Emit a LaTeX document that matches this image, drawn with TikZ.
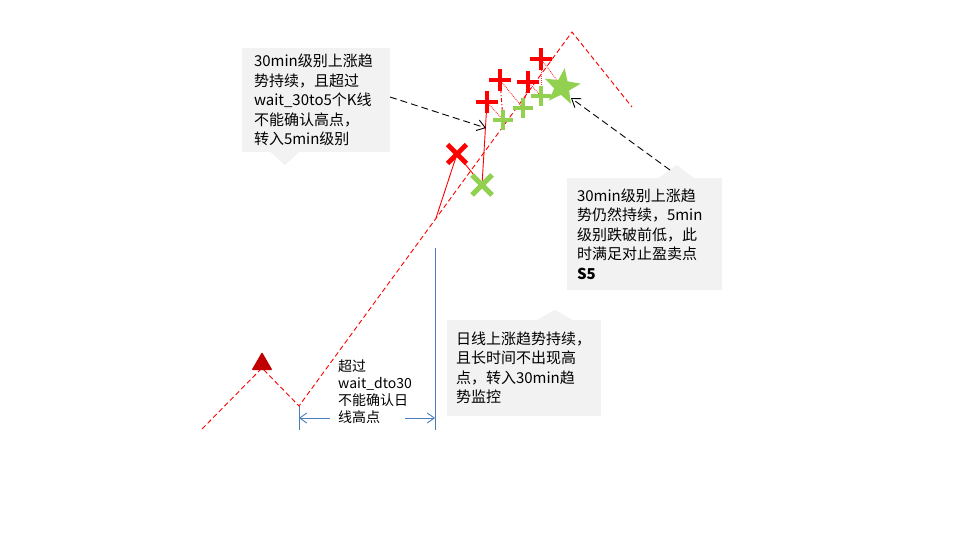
\documentclass[tikz,border=0pt]{standalone}
\usepackage{fontspec}
\setmainfont{Noto Sans CJK SC}
\usetikzlibrary{arrows.meta,shapes.geometric,shapes.misc,calc}
\definecolor{mred}{HTML}{FF0000}
\definecolor{mgreen}{HTML}{92D050}
\definecolor{dred}{HTML}{C00000}
\definecolor{mblue}{HTML}{4A7EBB}
\definecolor{cgray}{HTML}{F2F2F2}
\pgfdeclarelayer{front}
\pgfsetlayers{main,front}
\tikzset{
  callbox/.style={fill=cgray, draw=none, align=left, inner ysep=0pt,
    font=\fontsize{15}{19.5}\selectfont},
  calltail/.style={fill=cgray, draw=none},
  dimtext/.style={fill=white, align=left, inner xsep=4pt, inner ysep=2pt,
    font=\fontsize{14}{17}\selectfont},
  trend/.style={mred, line width=0.9pt, dash pattern=on 5pt off 3pt},
  thirty/.style={mred, line width=0.9pt},
  fivediag/.style={mred!80, line width=0.9pt, densely dotted},
  fivevert/.style={mred, line width=0.9pt, dash pattern=on 4pt off 2pt on 1pt off 2pt},
  dimline/.style={mblue, line width=0.9pt},
  dimarrow/.style={dimline, -{Straight Barb[length=7pt,width=10pt]}},
  notearrow/.style={black, line width=0.9pt, dash pattern=on 7pt off 4pt,
    -{Straight Barb[length=8pt,width=11pt]}},
  redx/.style={cross out, draw=mred, line width=4.8pt, minimum size=14pt, inner sep=0pt},
  greenx/.style={cross out, draw=mgreen, line width=5pt, minimum size=15pt, inner sep=0pt},
  redplus/.style={cross out, rotate=45, draw=mred, line width=4pt, minimum size=11pt, inner sep=0pt},
  greenplus/.style={cross out, rotate=45, draw=mgreen, line width=4pt, minimum size=10.5pt, inner sep=0pt},
  greenstar/.style={star, star points=5, star point ratio=2.4, fill=mgreen, draw=none,
    minimum size=38pt, inner sep=0pt, rotate=-8},
  hightri/.style={regular polygon, regular polygon sides=3, fill=dred, draw=none,
    minimum size=24pt, inner sep=0pt, rounded corners=1pt},
}
\begin{document}
\begin{tikzpicture}[x=1pt,y=-1pt]
\fill[white] (0,0) rectangle (960,540);
\useasboundingbox (0,0) rectangle (960,540);

% callouts
\node[callbox, text width=124pt, inner xsep=12pt, minimum height=104pt] (c1) at (316,100)
  {30min级别上涨趋\\势持续，且超过\\wait\_30to5个K线\\不能确认高点，\\转入5min级别};
\fill[calltail] ($(c1.south west)+(28,-1)$) -- ($(c1.south west)+(43,13)$) -- ($(c1.south west)+(58,-1)$) -- cycle;

\node[callbox, text width=135pt, inner xsep=10pt, minimum height=112pt] (c3) at (644.5,234)
  {30min级别上涨趋\\势仍然持续，5min\\级别跌破前低，此\\时满足对止盈卖点\\\textbf{S5}};
\fill[calltail] ($(c3.north west)+(91,1)$) -- ($(c3.north west)+(110,-13)$) -- ($(c3.north west)+(128,1)$) -- cycle;

\node[callbox, text width=136pt, inner xsep=9pt, minimum height=96pt] (c2) at (524,368)
  {日线上涨趋势持续，\\且长时间不出现高\\点，转入30min趋\\势监控};
\fill[calltail] ($(c2.north west)+(89,1)$) -- ($(c2.north west)+(108,-10)$) -- ($(c2.north west)+(127,1)$) -- cycle;

% trend coordinates
\coordinate (s0) at (202,429);
\coordinate (pk) at (262,368);
\coordinate (v1) at (299,406);
\coordinate (tp) at (572,32);
\coordinate (e0) at (632,107);
\coordinate (a0) at (436,218);

% dimension
\coordinate (vb1) at (299,430);
\coordinate (vt2) at (435,248);
\coordinate (vb2) at (435,430);
\coordinate (d1) at (299,418);
\coordinate (d2) at (435,418);
\coordinate (dl) at (330,418);
\coordinate (dr) at (405,418);
\draw[dimline] (v1) -- (vb1);
\draw[dimline] (vt2) -- (vb2);
\node[dimtext, anchor=north west] (dt) at (334,358) {超过\\wait\_dto30\\不能确认日\\线高点};
\draw[dimarrow] (dl) -- (d1);
\draw[dimarrow] (dr) -- (d2);

% markers (front layer)
\begin{pgfonlayer}{front}
\node[hightri] (tri) at (262,364) {};
\node[redx] (rx) at (457,154) {};
\node[greenx] (gx) at (482,185) {};
\node[redplus] (p1) at (487,102) {};
\node[redplus] (p2) at (500,80) {};
\node[redplus] (p3) at (528,82) {};
\node[redplus] (p4) at (541,59) {};
\node[greenplus] (g1) at (503,120) {};
\node[greenplus] (g2) at (523,108) {};
\node[greenplus] (g3) at (541,96) {};
\node[greenstar] (st) at (562,87) {};
\end{pgfonlayer}

% main daily trend
\draw[trend] (s0) -- (pk) -- (v1) -- (tp) -- (e0);

% 30min path
\draw[thirty] (a0) -- (rx.center) -- (gx.center) -- (p1.center);

% 5min path
\draw[fivediag] (p1.center) -- (g1.center);
\draw[fivevert] (g1.center) -- (p2.center);
\draw[fivediag] (p2.center) -- (g2.center);
\draw[fivevert] (g2.center) -- (p3.center);
\draw[fivediag] (p3.center) -- (g3.center);
\draw[fivediag] (g3.center) -- (p4.center);
\draw[fivediag] (p4.center) -- (st.center);

% note arrows
\coordinate (t1) at (486,128);
\coordinate (s1) at (390,97);
\coordinate (s2) at (670,170);
\coordinate (t2) at (571,98);
\draw[notearrow] (s1) -- (t1);
\draw[notearrow] (s2) -- (t2);
\end{tikzpicture}
\end{document}
